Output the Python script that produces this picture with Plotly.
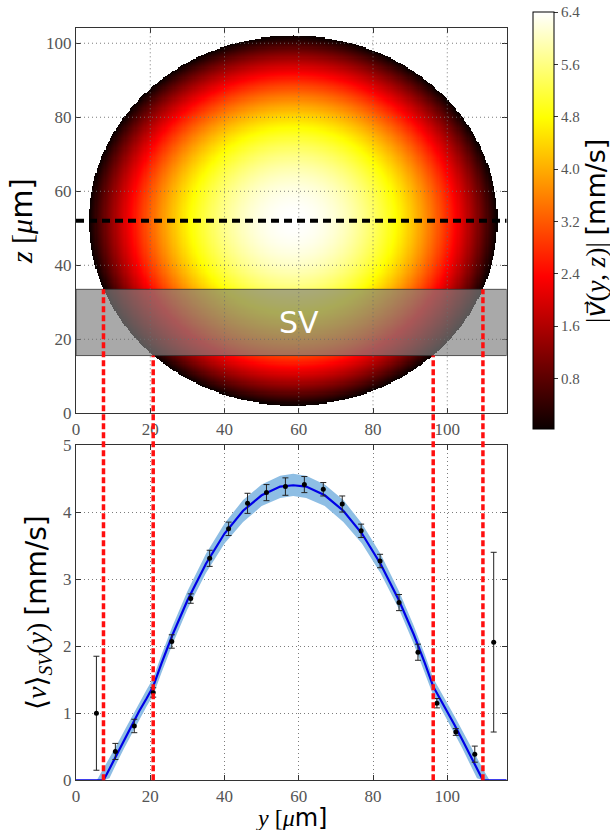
import numpy as np
import plotly.graph_objects as go

# ---- channel geometry and peak speed (elliptical cross-section) ----
y_centre = 58.5      # µm
z_centre = 52.0      # µm
half_width = 55.0    # µm
half_height = 50.0   # µm
v_peak = 6.4         # mm/s

# sampling volume (SV) slab
sv_bottom = 15.6
sv_top = 33.5

# axis ranges
y_range = [0, 116]
z_range = [0, 104.2]
v_range = [0, 5]

# ---- measured SV-averaged speed profile ----
meas_y = [5.5, 10.6, 15.7, 20.8, 25.8, 30.9, 36.0, 41.1, 46.2, 51.3, 56.4,
          61.5, 66.6, 71.7, 76.8, 81.9, 87.0, 92.1, 97.2, 102.3, 107.4, 112.5]
meas_v = [1.00, 0.43, 0.81, 1.31, 2.07, 2.71, 3.31, 3.75, 4.13, 4.29, 4.38,
          4.41, 4.34, 4.12, 3.72, 3.27, 2.65, 1.91, 1.15, 0.72, 0.39, 2.06]
meas_err = [0.85, 0.12, 0.10, 0.07, 0.10, 0.07, 0.12, 0.10, 0.15, 0.12, 0.13,
            0.12, 0.10, 0.12, 0.10, 0.10, 0.12, 0.12, 0.07, 0.05, 0.12, 1.34]

# ---- fitted profile and its confidence band ----
fit_y = [0, 7.4, 9, 11, 13, 15, 17, 19, 20.8, 23, 26, 30, 35, 40, 45, 50, 55, 58.5,
         62, 67, 72, 77, 82, 87, 91, 94, 96.2, 98, 100, 102, 104, 106, 108, 109.6, 116]
fit_v = [0, 0, 0.17, 0.39, 0.61, 0.82, 1.03, 1.22, 1.40, 1.74, 2.17, 2.68, 3.23, 3.68,
         4.02, 4.25, 4.38, 4.40, 4.38, 4.25, 4.02, 3.68, 3.23, 2.68, 2.17, 1.74, 1.40,
         1.22, 1.03, 0.82, 0.61, 0.39, 0.17, 0, 0]

band_y = [5.6, 7.4, 9, 11, 13, 15, 17, 19, 20.8, 23, 26, 30, 35, 40, 45, 50, 55, 58.5,
          62, 67, 72, 77, 82, 87, 91, 94, 96.2, 98, 100, 102, 104, 106, 108, 109.6, 111.4]
band_hi = [0, 0.17, 0.33, 0.53, 0.74, 0.95, 1.15, 1.35, 1.52, 1.87, 2.30, 2.82, 3.38,
           3.83, 4.18, 4.41, 4.54, 4.57, 4.54, 4.41, 4.18, 3.83, 3.38, 2.82, 2.30, 1.87,
           1.52, 1.35, 1.15, 0.95, 0.74, 0.53, 0.33, 0.17, 0]
band_lo = [0, 0, 0.03, 0.26, 0.48, 0.69, 0.90, 1.10, 1.27, 1.60, 2.03, 2.55, 3.09,
           3.53, 3.85, 4.09, 4.21, 4.24, 4.21, 4.09, 3.85, 3.53, 3.09, 2.55, 2.03, 1.60,
           1.27, 1.10, 0.90, 0.69, 0.48, 0.26, 0.03, 0, 0]

# tick values
y_ticks = [0, 20, 40, 60, 80, 100]
z_ticks = [0, 20, 40, 60, 80, 100]
v_ticks = [0, 1, 2, 3, 4, 5]
cbar_ticks = [0.8, 1.6, 2.4, 3.2, 4.0, 4.8, 5.6, 6.4]

# ---- velocity field on a grid (Poiseuille flow in an ellipse) ----
gy = np.arange(0, 116.01, 0.3)
gz = np.arange(0, 104.21, 0.3)
Y, Z = np.meshgrid(gy, gz)
r2 = ((Y - y_centre) / half_width) ** 2 + ((Z - z_centre) / half_height) ** 2
speed = v_peak * (1 - r2)
speed = np.where(r2 <= 1, np.round(speed, 3), np.nan)

# matplotlib-style "hot" map
hot = [[0.0, "rgb(10,0,0)"], [0.365, "rgb(255,0,0)"],
       [0.746, "rgb(255,255,0)"], [1.0, "rgb(255,255,255)"]]

# ---- layout geometry ----
x_dom = [76 / 610, 506.7 / 610]
top_dom = [(830 - 413.3) / 830, (830 - 27.7) / 830]
bot_dom = [(830 - 780.3) / 830, (830 - 445) / 830]

SERIF = "Liberation Serif, DejaVu Serif, serif"
SANS = "DejaVu Sans"
SANS_SPAN = "<span style=\"font-family:'DejaVu Sans'\">{}</span>"
tick_font = dict(family=SERIF, size=17, color="#555555")
GRID = "rgba(110,110,110,0.9)"
GRID_DASH = "1px,3px"

fig = go.Figure()

fig.add_trace(go.Heatmap(
    x=gy, y=gz, z=speed, colorscale=hot, zmin=0.03, zmax=v_peak,
    xaxis="x", yaxis="y", hoverinfo="skip",
    colorbar=dict(
        x=533 / 610, xanchor="left", xpad=0, y=(830 - 429) / 830, yanchor="bottom",
        len=(429 - 12.3) / 830, lenmode="fraction", thickness=21, thicknessmode="pixels",
        ypad=0, outlinecolor="black", outlinewidth=1,
        tickvals=cbar_ticks, ticktext=[f"{t:.1f}" for t in cbar_ticks],
        ticks="outside", ticklen=4, tickcolor="#333",
        tickfont=dict(family=SERIF, size=15, color="#555555"),
    ),
))

# fit band and fitted profile
fig.add_trace(go.Scatter(
    x=band_y + band_y[::-1], y=band_hi + band_lo[::-1], fill="toself",
    fillcolor="rgb(142,190,228)", line=dict(width=0), mode="lines",
    xaxis="x2", yaxis="y2", hoverinfo="skip", showlegend=False))
fig.add_trace(go.Scatter(
    x=fit_y, y=fit_v, mode="lines", line=dict(color="#0000e6", width=2.2),
    xaxis="x2", yaxis="y2", showlegend=False))

# measurements with error bars
fig.add_trace(go.Scatter(
    x=meas_y, y=meas_v, mode="markers",
    marker=dict(color="black", size=5),
    error_y=dict(type="data", array=meas_err, color="#222", thickness=1, width=3),
    xaxis="x2", yaxis="y2", showlegend=False))

shapes = []
# SV slab
shapes.append(dict(type="rect", xref="x", yref="y", x0=y_range[0], x1=y_range[1],
                   y0=sv_bottom, y1=sv_top, fillcolor="rgba(128,128,128,0.68)",
                   line=dict(color="rgba(50,50,50,0.8)", width=1), layer="above"))
# dotted grid over the map
for t in y_ticks[1:]:
    shapes.append(dict(type="line", xref="x", yref="y", x0=t, x1=t, y0=z_range[0], y1=z_range[1],
                       line=dict(color=GRID, width=1, dash=GRID_DASH), layer="above"))
for t in z_ticks[1:]:
    shapes.append(dict(type="line", xref="x", yref="y", x0=y_range[0], x1=y_range[1], y0=t, y1=t,
                       line=dict(color=GRID, width=1, dash=GRID_DASH), layer="above"))
# channel mid-plane
shapes.append(dict(type="line", xref="x", yref="y", x0=y_range[0], x1=y_range[1],
                   y0=z_centre, y1=z_centre, line=dict(color="black", width=4, dash="8px,5px"),
                   layer="above"))


def z_to_paper(z):
    return top_dom[0] + (z - z_range[0]) / (z_range[1] - z_range[0]) * (top_dom[1] - top_dom[0])


def v_to_paper(v):
    return bot_dom[0] + (v - v_range[0]) / (v_range[1] - v_range[0]) * (bot_dom[1] - bot_dom[0])


# edges of the SV slab inside the channel, carried down to the profile
for zb in (sv_top, sv_bottom):
    half = half_width * np.sqrt(1 - ((zb - z_centre) / half_height) ** 2)
    for xe in (y_centre - half, y_centre + half):
        shapes.append(dict(type="line", xref="x", yref="paper", x0=xe, x1=xe,
                           y0=v_to_paper(0), y1=z_to_paper(zb),
                           line=dict(color="rgb(255,15,15)", width=3.5, dash="6px,3px"),
                           layer="above"))

axis_common = dict(showline=True, linecolor="#333", linewidth=1, mirror="ticks",
                   ticks="inside", ticklen=5, tickcolor="#333", tickfont=tick_font,
                   zeroline=False, automargin=False)

annotations = [
    dict(text="SV", x=60, y=(sv_bottom + sv_top) / 2, xref="x", yref="y",
         showarrow=False, font=dict(family=SANS, size=30, color="white")),
    # colour-bar label
    dict(text="|<span style=\"font-family:'DejaVu Sans'\"><i>v\u20d7</i></span>"
              "(<i>y</i>, <i>z</i>)| " + SANS_SPAN.format("[mm/s]"),
         x=595 / 610, y=(830 - 231) / 830, xref="paper", yref="paper",
         xanchor="center", yanchor="middle", textangle=-90, showarrow=False,
         font=dict(family=SERIF, size=27, color="black")),
    # profile abscissa label
    dict(text="<i>y</i> [<i>\u03bc</i>" + SANS_SPAN.format("m]"),
         x=291 / 610, y=(830 - 818) / 830, xref="paper", yref="paper",
         xanchor="center", yanchor="middle", showarrow=False,
         font=dict(family=SERIF, size=24, color="black")),
]

fig.update_layout(
    width=610, height=830, margin=dict(l=0, r=0, t=0, b=0, autoexpand=False),
    paper_bgcolor="white", plot_bgcolor="white", showlegend=False,
    shapes=shapes, annotations=annotations,
    xaxis=dict(domain=x_dom, anchor="y", range=y_range, tickvals=y_ticks,
               showgrid=False, **axis_common),
    yaxis=dict(domain=top_dom, anchor="x", range=z_range, tickvals=z_ticks,
               showgrid=False,
               title=dict(text="<i>z</i> [<i>\u03bc</i>" + SANS_SPAN.format("m]"),
                          font=dict(family=SERIF, size=30, color="black"), standoff=4),
               **axis_common),
    xaxis2=dict(domain=x_dom, anchor="y2", range=y_range, tickvals=y_ticks,
                showgrid=True, gridcolor=GRID, griddash=GRID_DASH, gridwidth=1,
                **axis_common),
    yaxis2=dict(domain=bot_dom, anchor="x2", range=v_range, tickvals=v_ticks,
                showgrid=True, gridcolor=GRID, griddash=GRID_DASH, gridwidth=1,
                title=dict(text="\u27e8<i>v</i>\u27e9<sub><i>SV</i></sub>(<i>y</i>) "
                                + SANS_SPAN.format("[mm/s]"),
                           font=dict(family=SERIF, size=28, color="black"), standoff=8),
                **axis_common),
)

fig.write_html("out.html")
